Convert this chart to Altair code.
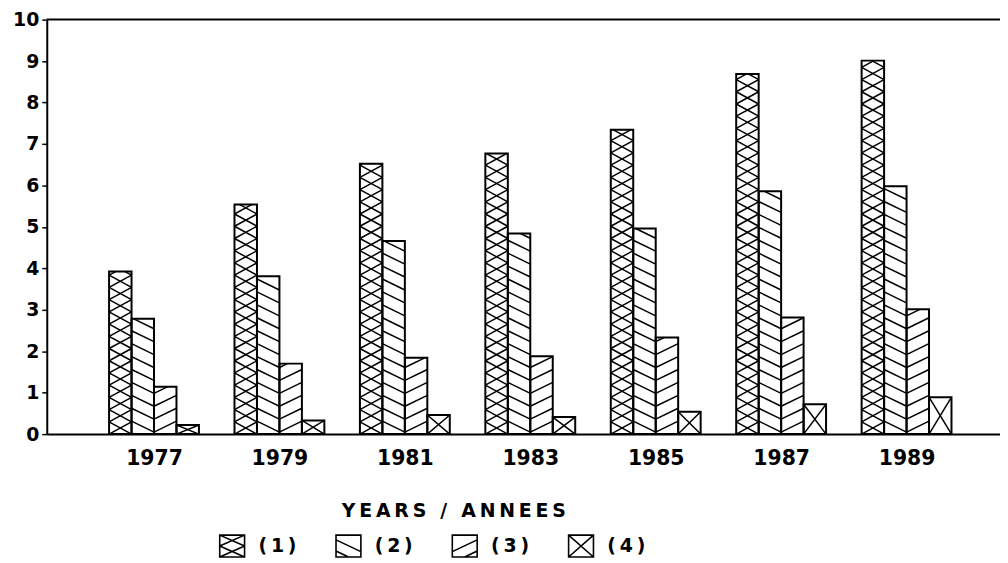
import altair as alt
import pandas as pd

# ---------------- data ----------------
years = [1977, 1979, 1981, 1983, 1985, 1987, 1989]
series_names = ["(1)", "(2)", "(3)", "(4)"]
s1 = [3.92, 5.54, 6.52, 6.77, 7.34, 8.69, 9.01]
s2 = [2.78, 3.81, 4.66, 4.84, 4.96, 5.86, 5.98]
s3 = [1.14, 1.70, 1.84, 1.88, 2.33, 2.81, 3.01]
s4 = [0.22, 0.33, 0.46, 0.41, 0.54, 0.72, 0.89]
y_ticks = list(range(0, 11))
x_title = "YEARS / ANNEES"

# ---------------- layout / style ----------------
W, H = 959, 417
X_DOMAIN = [1975.29, 1990.49]
Y_DOMAIN = [0, 10]
FONT = "DejaVu Sans"
THIN = "\u2009"
px_x = W / (X_DOMAIN[1] - X_DOMAIN[0])
px_y = H / (Y_DOMAIN[1] - Y_DOMAIN[0])
BAR_W = 22.6 / px_x          # bar width in year units
P1 = 12.3 / px_y             # cross-hatch cell height
S2 = 13.0 / px_y             # diagonal hatch spacing
D2 = 11.0 / px_y             # diagonal hatch drop across a bar


def track(s):
    return THIN.join(list(s))


TRACK_EXPR = "join(split(datum.label, ''), '" + THIN + "')"


def clip(x0, y0, x1, y1, xmin, xmax, ymin, ymax):
    dx, dy = x1 - x0, y1 - y0
    t0, t1 = 0.0, 1.0
    for p, q in ((-dx, x0 - xmin), (dx, xmax - x0), (-dy, y0 - ymin), (dy, ymax - y0)):
        if p == 0:
            if q < 0:
                return None
        else:
            t = q / p
            if p < 0:
                if t > t1:
                    return None
                t0 = max(t0, t)
            else:
                if t < t0:
                    return None
                t1 = min(t1, t)
    if t1 - t0 < 1e-6:
        return None
    return (x0 + t0 * dx, y0 + t0 * dy, x0 + t1 * dx, y0 + t1 * dy)


series_values = [s1, s2, s3, s4]
bar_rows = []
hatch_rows = []
for i, yr in enumerate(years):
    for k, name in enumerate(series_names):
        v = series_values[k][i]
        xl = yr + (k - 2) * BAR_W
        xr = xl + BAR_W
        bar_rows.append({"year": yr, "series": name, "x0": xl, "x1": xr, "v": v})
        segs = []
        if k == 0:
            n = int(v / P1) + 1
            for c in range(n):
                lo, hi = c * P1, (c + 1) * P1
                segs.append((xl, lo, xr, hi))
                segs.append((xl, hi, xr, lo))
        elif k == 1:
            for c in range(int((v + D2) / S2) + 2):
                y0 = c * S2
                segs.append((xl, y0, xr, y0 - D2))
        elif k == 2:
            for c in range(int((v + D2) / S2) + 2):
                y0 = c * S2
                segs.append((xl, y0 - D2, xr, y0))
        else:
            segs.append((xl, 0, xr, v))
            segs.append((xl, v, xr, 0))
        for sg in segs:
            r = clip(*sg, xl, xr, 0, v)
            if r:
                hatch_rows.append({"hx": r[0], "hy": r[1], "hx2": r[2], "hy2": r[3]})

bars = pd.DataFrame(bar_rows)
hatch = pd.DataFrame(hatch_rows)

xscale = alt.Scale(domain=X_DOMAIN, nice=False, zero=False)
yscale = alt.Scale(domain=Y_DOMAIN, nice=False, zero=False)

box = "M-1,-0.88H1V0.88H-1Z"
shape_paths = [
    box + "M-1,-0.88L1,0M-1,0L1,-0.88M-1,0L1,0.88M-1,0.88L1,0",
    box + "M-1,-0.5L1,0.45M-1,0.4L0,0.88",
    box + "M-1,0.45L1,-0.5M0,0.88L1,0.4",
    box + "M-1,-0.88L1,0.88M-1,0.88L1,-0.88",
]

x_axis = alt.Axis(
    values=years, format="d", ticks=False, grid=False,
    domainColor="black", domainWidth=2, labelFont=FONT, labelFontSize=20.5,
    labelFontWeight="bold", labelColor="black", labelPadding=15, labelOverlap=False,
    labelFlush=False,
    title=track(x_title), titleFont=FONT, titleFontSize=19, titleFontWeight="bold",
    titleColor="black", titleX=409, titleY=77, titleAlign="center",
    titleBaseline="middle", titleAnchor="start",
)
y_axis = alt.Axis(
    values=y_ticks, grid=False, tickSize=5, tickWidth=1.5,
    tickColor="black", domainColor="black", domainWidth=2, labelFont=FONT,
    labelFontSize=19, labelFontWeight="bold", labelColor="black", labelPadding=3,
    title=None, labelFlush=False, labelOverlap=False,
)

fill_layer = alt.Chart(bars).mark_rect(fill="white", strokeWidth=0).encode(
    x=alt.X("x0:Q", scale=xscale, axis=x_axis),
    x2="x1:Q",
    y=alt.Y("v:Q", scale=yscale, axis=y_axis),
    y2=alt.Y2(datum=0),
)

hatch_layer = alt.Chart(hatch).mark_rule(color="black", strokeWidth=1.5).encode(
    x=alt.X("hx:Q", scale=xscale, axis=x_axis),
    x2="hx2:Q",
    y=alt.Y("hy:Q", scale=yscale, axis=y_axis),
    y2="hy2:Q",
)

outline_layer = alt.Chart(bars).mark_rect(
    fillOpacity=0, stroke="black", strokeWidth=2
).encode(
    x=alt.X("x0:Q", scale=xscale, axis=x_axis),
    x2="x1:Q",
    y=alt.Y("v:Q", scale=yscale, axis=y_axis),
    y2=alt.Y2(datum=0),
)

top_line = alt.Chart(pd.DataFrame({"top": [Y_DOMAIN[1]]})).mark_rule(
    color="black", strokeWidth=2
).encode(y=alt.Y("top:Q", scale=yscale, axis=y_axis))

legend_layer = alt.Chart(bars).mark_point(color="black", opacity=0).encode(
    x=alt.X("year:Q", scale=xscale, axis=x_axis),
    y=alt.Y("v:Q", scale=yscale, axis=y_axis),
    shape=alt.Shape(
        "series:N",
        scale=alt.Scale(domain=series_names, range=shape_paths),
        legend=alt.Legend(
            orient="none", legendX=173, legendY=516, direction="horizontal",
            columns=4, title=None, symbolSize=625, symbolStrokeColor="black",
            symbolStrokeWidth=1.6, symbolOpacity=1, symbolFillColor="white",
            labelExpr=TRACK_EXPR, labelFont=FONT, labelFontSize=19,
            labelFontWeight="bold", labelColor="black", labelOffset=13,
            columnPadding=35, padding=0, labelLimit=0,
        ),
    ),
)

chart = alt.layer(
    fill_layer, hatch_layer, outline_layer, top_line, legend_layer
).properties(
    width=W, height=H, autosize="none",
    padding={"left": 39, "top": 10, "right": 0, "bottom": 124},
).configure_view(stroke=None)

chart.save("out.html", embed_options={"renderer": "svg", "actions": False})
